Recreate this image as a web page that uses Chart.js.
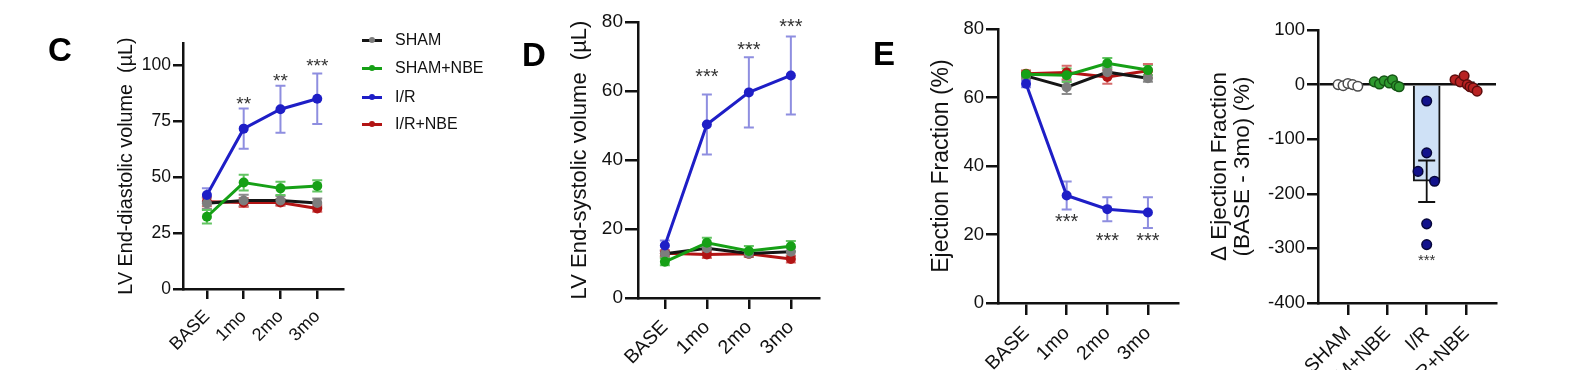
<!DOCTYPE html>
<html><head><meta charset="utf-8">
<script src="https://cdn.jsdelivr.net/npm/chart.js@4.4.0/dist/chart.umd.min.js"></script>
<style>
html,body{margin:0;padding:0;background:#fff;overflow:hidden;width:1595px;height:370px;}
canvas{position:absolute;top:0;}
.letter{position:absolute;font:bold 33px "Liberation Sans",Arial,sans-serif;line-height:33px;color:#000;z-index:5;}
.li{position:absolute;left:362px;height:20px;font:16px "Liberation Sans",Arial,sans-serif;color:#111;z-index:5;}
.li .ln{position:absolute;left:0;top:9px;width:20px;height:2.5px;}
.li .dt{position:absolute;left:7px;top:7px;width:6px;height:6px;border-radius:50%;}
.li .tx{position:absolute;left:33px;top:0;line-height:20px;white-space:nowrap;}
</style>
</head><body>
<div class="letter" style="left:48px;top:33px">C</div>
<div class="letter" style="left:522px;top:38px">D</div>
<div class="letter" style="left:873px;top:37px">E</div>
<div id="legend"></div>
<canvas id="cC" width="360" height="370" style="left:0px"></canvas>
<canvas id="cD" width="350" height="370" style="left:480px"></canvas>
<canvas id="cE" width="350" height="370" style="left:840px"></canvas>
<canvas id="cF" width="405" height="400" style="left:1190px"></canvas>
<script>
// ---------------- data ----------------
const timepoints = ['BASE', '1mo', '2mo', '3mo'];
const groups = ['SHAM', 'SHAM+NBE', 'I/R', 'I/R+NBE'];

// Panel C: LV end-diastolic volume (µL), mean and SEM
const edvTicks = [0, 25, 50, 75, 100];
const edvSham = [38.3, 39.6, 39.6, 38.5];
const edvShamSem = [2.5, 2.5, 2, 2];
const edvShamNbe = [32.3, 47.6, 45.0, 46.1];
const edvShamNbeSem = [3, 3.5, 3, 2.5];
const edvIR = [42.0, 71.7, 80.4, 85.1];
const edvIRSem = [3, 9, 10.5, 11.3];
const edvIRNbe = [39.0, 38.7, 38.7, 36.0];
const edvIRNbeSem = [2, 2, 1.5, 1.5];
const edvStars = ['', '**', '**', '***'];
const edvStarLevel = [null, 84.4, 94.6, 101.3];

// Panel D: LV end-systolic volume (µL)
const esvTicks = [0, 20, 40, 60, 80];
const esvSham = [12.8, 14.4, 12.9, 13.4];
const esvShamSem = [1, 1, 1, 1.2];
const esvShamNbe = [10.5, 16.0, 13.6, 15.0];
const esvShamNbeSem = [1, 1.5, 1.5, 1.5];
const esvIR = [15.2, 50.3, 59.6, 64.5];
const esvIRSem = [1.5, 8.7, 10.2, 11.3];
const esvIRNbe = [13.0, 12.6, 12.8, 11.3];
const esvIRNbeSem = [0.8, 1, 0.8, 1];
const esvStars = ['', '***', '***', '***'];
const esvStarLevel = [null, 65.3, 73.1, 79.8];

// Panel E: ejection fraction (%)
const efTicks = [0, 20, 40, 60, 80];
const efSham = [66.3, 63.0, 67.4, 65.6];
const efShamSem = [1, 2, 1.5, 1];
const efShamNbe = [66.8, 66.5, 70.0, 68.0];
const efShamNbeSem = [1, 2, 1.5, 1.5];
const efIR = [64.0, 31.4, 27.4, 26.4];
const efIRSem = [1, 4.1, 3.5, 4.5];
const efIRNbe = [66.9, 67.3, 66.0, 67.8];
const efIRNbeSem = [1, 2, 2, 2];
const efStars = ['', '***', '***', '***'];
const efStarLevel = [null, 24.9, 19.3, 19.3];

// Panel E (right): delta ejection fraction (BASE - 3mo) (%)
const dTicks = [-400, -300, -200, -100, 0, 100];
const dMean = [0, 3, -177, 1];
const dSem = [1.5, 2, 38, 3];
const dSham = [0, -2, 2, 0, -3];
const dShamJitter = [-0.25, -0.12, 0, 0.12, 0.25];
const dShamNbe = [5, 1, 7, 3, 9, -2, -4];
const dShamNbeJitter = [-0.33, -0.2, -0.08, 0.05, 0.13, 0.23, 0.3];
const dIR = [-30, -125, -159, -177, -255, -293];
const dIRJitter = [0, 0, -0.22, 0.2, 0, 0];
const dIRNbe = [9, 5, 16, 0, -4, -6, -12];
const dIRNbeJitter = [-0.28, -0.15, -0.05, 0.03, 0.1, 0.18, 0.28];
const dStars = ['', '', '***', ''];
const dStarLevel = [null, null, -317, null];

// ---------------- style ----------------
const FONT = '"Liberation Sans", Arial, Helvetica, sans-serif';
Chart.defaults.font.family = FONT;
Chart.defaults.color = '#111';
Chart.defaults.animation = false;
const AX = '#111';
const STYLE = {
  'SHAM':     {line: '#151515', point: '#7d7d7d', err: '#8c8c8c', order: 2, dot: '#ffffff', dotBorder: '#4a4a4a'},
  'SHAM+NBE': {line: '#16a016', point: '#16a016', err: '#63c463', order: 1, dot: '#2f9a2f', dotBorder: '#155515'},
  'I/R':      {line: '#1e1ec6', point: '#1e1ec6', err: '#8e8ee0', order: 0, dot: '#12128c', dotBorder: '#06063a'},
  'I/R+NBE':  {line: '#b21414', point: '#b21414', err: '#d66c6c', order: 3, dot: '#b82222', dotBorder: '#5c0c0c'}
};

// legend (HTML, real text)
const legendTops = [30, 58, 87, 114];
const legend = document.getElementById('legend');
groups.forEach((g, i) => {
  const s = STYLE[g];
  const d = document.createElement('div');
  d.className = 'li'; d.style.top = legendTops[i] + 'px';
  d.innerHTML = '<div class="ln" style="background:' + s.line + '"></div><div class="dt" style="background:' + s.point + '"></div><div class="tx"></div>';
  d.querySelector('.tx').textContent = g;
  legend.appendChild(d);
});

// ---------------- plugins ----------------
function drawErr(chart, i) {
  const ds = chart.data.datasets[i];
  if (!ds.sem) return;
  const ctx = chart.ctx, xs = chart.scales.x, ys = chart.scales.y;
  ctx.save();
  ctx.strokeStyle = ds.errColor; ctx.lineWidth = ds.errWidth || 2;
  const cap = ds.errCap || 5;
  ds.data.forEach((p, j) => {
    const e = ds.sem[j]; if (e == null) return;
    const px = xs.getPixelForValue(p.x);
    const t = ys.getPixelForValue(p.y + e), b = ys.getPixelForValue(p.y - e);
    ctx.beginPath();
    ctx.moveTo(px, t); ctx.lineTo(px, b);
    ctx.moveTo(px - cap, t); ctx.lineTo(px + cap, t);
    ctx.moveTo(px - cap, b); ctx.lineTo(px + cap, b);
    ctx.stroke();
  });
  ctx.restore();
}
const errorBars = {
  id: 'errorBars',
  beforeDatasetsDraw(chart) {
    chart.data.datasets.forEach((ds, i) => { if (!ds.errAfter) drawErr(chart, i); });
  },
  afterDatasetDraw(chart, args) {
    const ds = chart.data.datasets[args.index];
    if (ds.errAfter) drawErr(chart, args.index);
  }
};
function starsPlugin(labels, levels, size) {
  return {
    id: 'stars',
    afterDatasetsDraw(chart) {
      const ctx = chart.ctx, xs = chart.scales.x, ys = chart.scales.y;
      ctx.save();
      ctx.fillStyle = '#333'; ctx.font = size + 'px ' + FONT;
      ctx.textAlign = 'center'; ctx.textBaseline = 'middle';
      labels.forEach((t, i) => {
        if (!t) return;
        ctx.fillText(t, xs.getPixelForValue(i), ys.getPixelForValue(levels[i]) + size * 0.22);
      });
      ctx.restore();
    }
  };
}

// ---------------- scale builders ----------------
function xScale(min, max, labels, fontSize, tickLen, height) {
  return {
    type: 'linear', min: min, max: max, bounds: 'data', offset: false,
    afterBuildTicks: s => { s.ticks = labels.map((_, i) => ({value: i})); },
    afterFit: s => { s.height = height; },
    ticks: {callback: v => labels[v], autoSkip: false, minRotation: 45, maxRotation: 45, padding: 7, font: {size: fontSize}, color: '#111'},
    grid: {drawOnChartArea: false, offset: false, tickLength: tickLen, color: AX, lineWidth: 2.5},
    border: {display: true, color: AX, width: 2.5}
  };
}
function yScale(min, max, ticks, fontSize, tickLen, width, title, titleSize, titleLH) {
  return {
    type: 'linear', min: min, max: max, bounds: 'data',
    afterBuildTicks: s => { s.ticks = ticks.map(v => ({value: v})); },
    afterFit: s => { s.width = width; },
    ticks: {padding: 2, font: {size: fontSize}, color: '#111'},
    grid: {drawOnChartArea: false, tickLength: tickLen, color: AX, lineWidth: 2.5},
    border: {display: true, color: AX, width: 2.5},
    title: {display: true, text: title, font: {size: titleSize, lineHeight: titleLH}, padding: 0, color: '#111'}
  };
}
function lineDs(name, vals, sem) {
  const s = STYLE[name];
  return {
    label: name, data: vals.map((v, i) => ({x: i, y: v})), sem: sem, errColor: s.err,
    borderColor: s.line, backgroundColor: s.point, pointBackgroundColor: s.point, pointBorderColor: s.point,
    pointRadius: 5, pointBorderWidth: 0, borderWidth: 3, tension: 0, order: s.order
  };
}
function lineChart(id, series, xr, yr, fonts, ticksLen, pad, yW, xH, title, stars) {
  return new Chart(document.getElementById(id), {
    type: 'line',
    data: {datasets: series.map(s => lineDs(s[0], s[1], s[2]))},
    options: {
      responsive: false, devicePixelRatio: 1,
      layout: {padding: pad},
      plugins: {legend: {display: false}, tooltip: {enabled: false}},
      scales: {
        x: xScale(xr[0], xr[1], timepoints, fonts.x, ticksLen.x, xH),
        y: yScale(yr[0], yr[1], yr[2], fonts.y, ticksLen.y, yW, title, fonts.title, 1.2)
      }
    },
    plugins: [errorBars, starsPlugin(stars[0], stars[1], fonts.star)]
  });
}

// Panel C
lineChart('cC',
  [['SHAM', edvSham, edvShamSem], ['SHAM+NBE', edvShamNbe, edvShamNbeSem], ['I/R', edvIR, edvIRSem], ['I/R+NBE', edvIRNbe, edvIRNbeSem]],
  [-0.65, 3.7], [0, 110, edvTicks], {x: 18, y: 17.5, title: 19.8, star: 19}, {x: 10, y: 10},
  {left: 115, top: 43, right: 17, bottom: 0}, 68, 81, 'LV End-diastolic volume  (µL)', [edvStars, edvStarLevel]);

// Panel D
lineChart('cD',
  [['SHAM', esvSham, esvShamSem], ['SHAM+NBE', esvShamNbe, esvShamNbeSem], ['I/R', esvIR, esvIRSem], ['I/R+NBE', esvIRNbe, esvIRNbeSem]],
  [-0.64, 3.67], [0, 80, esvTicks], {x: 19.5, y: 19, title: 22, star: 20}, {x: 11, y: 13},
  {left: 87, top: 22, right: 11, bottom: 0}, 71, 72, 'LV End-systolic volume  (µL)', [esvStars, esvStarLevel]);

// Panel E (line)
lineChart('cE',
  [['SHAM', efSham, efShamSem], ['SHAM+NBE', efShamNbe, efShamNbeSem], ['I/R', efIR, efIRSem], ['I/R+NBE', efIRNbe, efIRNbeSem]],
  [-0.69, 3.74], [0, 80, efTicks], {x: 19.5, y: 18.5, title: 23, star: 20}, {x: 12, y: 12},
  {left: 88, top: 29, right: 12, bottom: 0}, 70, 67, 'Ejection Fraction (%)', [efStars, efStarLevel]);

// Panel E (bar + dots)
function dotDs(name, vals, jitter, gi) {
  const s = STYLE[name];
  return {
    type: 'scatter', label: name, data: vals.map((v, k) => ({x: gi + jitter[k], y: v})),
    pointRadius: 4.8, pointBorderWidth: 1.5, pointBackgroundColor: s.dot, pointBorderColor: s.dotBorder,
    backgroundColor: s.dot, borderColor: s.dotBorder, order: 1
  };
}
const yF = yScale(-400, 100, dTicks, 18.5, 11, 109.5, ['Δ Ejection Fraction', '(BASE - 3mo) (%)'], 22.5, 1.02);
yF.grid.drawOnChartArea = true;
yF.grid.color = c => (c.tick && c.tick.value === 0) ? AX : 'rgba(0,0,0,0)';
yF.grid.tickColor = AX;
new Chart(document.getElementById('cF'), {
  type: 'bar',
  data: {datasets: [
    {type: 'bar', label: 'mean', data: dMean.map((v, i) => ({x: i, y: v})), sem: dSem, errAfter: true, errColor: '#111', errWidth: 1.8, errCap: 8.5,
     backgroundColor: '#cfe1f6', borderColor: '#151515', borderWidth: 2, barThickness: 27, order: 10},
    dotDs('SHAM', dSham, dShamJitter, 0),
    dotDs('SHAM+NBE', dShamNbe, dShamNbeJitter, 1),
    dotDs('I/R', dIR, dIRJitter, 2),
    dotDs('I/R+NBE', dIRNbe, dIRNbeJitter, 3)
  ]},
  options: {
    responsive: false, devicePixelRatio: 1,
    layout: {padding: {left: 18.5, top: 30, right: 99, bottom: 0}},
    plugins: {legend: {display: false}, tooltip: {enabled: false}},
    scales: {
      x: xScale(-0.76, 3.76, groups, 19.5, 12, 97),
      y: yF
    }
  },
  plugins: [errorBars, starsPlugin(dStars, dStarLevel, 15)]
});
</script>
</body></html>
